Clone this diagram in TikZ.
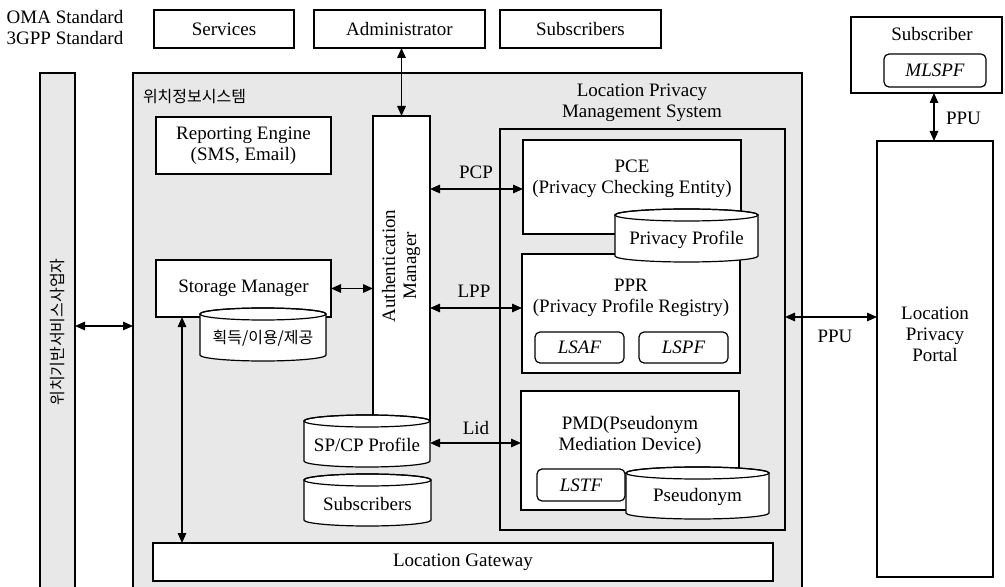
\documentclass[tikz,border=0pt]{standalone}
\usepackage{fontspec}
\setmainfont{Liberation Serif}
\newfontfamily\krfont{Noto Sans CJK KR}
\usetikzlibrary{arrows.meta}
\definecolor{panelgray}{RGB}{232,232,232}
\newcommand{\korean}{\fontsize{16bp}{18bp}\krfont}
% box by image corners: name, style, x1, y1, x2, y2, text
\newcommand{\bx}[7]{%
  \node[#2, minimum width={(#5-#3)*1bp}, minimum height={(#6-#4)*1bp}, anchor=north west, align=center] (#1) at (#3,-#4) {#7};}
% cylinder by image corners: name, x1, y1, x2, y2, text
\newcommand{\dbcyl}[6]{%
  \pgfmathsetmacro{\cylcx}{(#2+#4)/2}%
  \pgfmathsetmacro{\cylrx}{(#4-#2)/2}%
  \pgfmathsetmacro{\cylyt}{-(#3)-6}%
  \pgfmathsetmacro{\cylyb}{-(#5)+6}%
  \pgfmathsetmacro{\cylyc}{-((#3)+(#5))/2-4}%
  \path[cylline] (#2,\cylyt) -- (#2,\cylyb) arc[start angle=180,end angle=360,x radius=\cylrx,y radius=6] -- (#4,\cylyt) arc[start angle=0,end angle=180,x radius=\cylrx,y radius=6] -- cycle;
  \draw[line width=1.2bp] (\cylcx,\cylyt) ellipse[x radius=\cylrx,y radius=6];
  \node (#1) at (\cylcx,\cylyc) {#6};}
\begin{document}
\begin{tikzpicture}[x=1bp,y=1bp,
  every node/.style={font=\fontsize{19bp}{21bp}\selectfont, inner sep=0pt, outer sep=0pt},
  box/.style={draw, line width=1.2bp, fill=white},
  graybox/.style={draw, line width=1.2bp, fill=panelgray},
  rbox/.style={draw, line width=1.2bp, fill=white, rounded corners=5bp, font=\fontsize{19bp}{21bp}\selectfont\itshape},
  dar/.style={line width=1.5bp, {Triangle[length=10bp,width=8.5bp]}-{Triangle[length=10bp,width=8.5bp]}},
  cylline/.style={draw, line width=1.2bp, fill=white}]
\clip (0,0) rectangle (1005,-587);
\fill[white] (0,0) rectangle (1005,-587);

% top row
\node[align=center] (std) at (65,-28) {OMA Standard\\3GPP Standard};
\bx{services}{box}{154}{10}{294}{48}{Services}
\bx{admin}{box}{314}{10}{485}{48}{Administrator}
\bx{subs}{box}{500}{10}{661}{48}{Subscribers}

% left provider column
\bx{lsp}{graybox}{40}{73}{75}{600}{}
\node[rotate=90, font=\korean] (lsptxt) at (58,-332) {위치기반서비스사업자};

% main system
\bx{lbs}{graybox}{133}{73}{802}{600}{}
\node[anchor=west, font=\korean] (lbstitle) at (143,-97) {위치정보시스템};
\bx{report}{box}{156}{117}{331}{174}{Reporting Engine\\(SMS, Email)}
\bx{storage}{box}{156}{260}{331}{317}{Storage Manager}
\dbcyl{acq}{200}{308}{326}{361}{\korean 획득/이용/제공}
\bx{auth}{box}{373}{116}{430}{440}{}
\node[rotate=90, align=center] (authtxt) at (401,-266) {Authentication\\Manager};
\dbcyl{spcp}{304}{415}{430}{467}{SP/CP Profile}
\dbcyl{subdb}{304}{474}{431}{526}{Subscribers}
\bx{gw}{box}{153}{543}{773}{581}{Location Gateway}

% LPMS
\node[align=center] (lpmstitle) at (642,-102.5) {Location Privacy\\Management System};
\bx{lpms}{graybox}{500}{129}{785}{530}{}
\bx{pce}{box}{523}{140}{741}{234}{}
\node[align=center] (pcetxt) at (632,-178.5) {PCE\\(Privacy Checking Entity)};
\bx{ppr}{box}{522}{254}{740}{373}{}
\node[align=center] (pprtxt) at (631,-298) {PPR\\(Privacy Profile Registry)};
\bx{lsaf}{rbox}{535}{332}{624}{363}{LSAF}
\bx{lspf}{rbox}{639}{332}{728}{363}{LSPF}
\dbcyl{pprof}{615}{209}{758}{262}{Privacy Profile}
\bx{pmd}{box}{521}{391}{739}{510}{}
\node[align=center] (pmdtxt) at (630,-435.5) {PMD(Pseudonym\\Mediation Device)};
\bx{lstf}{rbox}{537}{469}{625}{501}{LSTF}
\dbcyl{pseudo}{626}{467}{769}{519}{Pseudonym}

% right side
\bx{subscriber}{box}{851}{17}{1002}{93}{}
\node (subtxt) at (932,-34) {Subscriber};
\bx{mlspf}{rbox}{884}{54}{986}{87}{MLSPF}
\bx{portal}{box}{877}{141}{993}{577}{}
\node[align=center] (portaltxt) at (935,-334) {Location\\Privacy\\Portal};

% connectors
\coordinate (yleft) at (0,-326);
\draw[dar] (yleft -| lsp.east) -- (yleft -| lbs.west);
\draw[dar] (admin.south -| auth.north) -- (auth.north);
\draw[dar] (storage.east) -- (storage.east -| auth.west);
\coordinate (xsg) at (182,0);
\draw[dar] (xsg |- storage.south) -- (xsg |- gw.north);
\coordinate (ypcp) at (0,-189);
\draw[dar] (ypcp -| auth.east) -- (ypcp -| pce.west);
\coordinate (ylpp) at (0,-308);
\draw[dar] (ylpp -| auth.east) -- (ylpp -| ppr.west);
\coordinate (ylid) at (0,-443);
\draw[dar] (ylid -| auth.east) -- (ylid -| pmd.west);
\coordinate (yppu) at (0,-317);
\draw[dar] (yppu -| lpms.east) -- (yppu -| portal.west);
\coordinate (xppu) at (934,0);
\draw[dar] (xppu |- subscriber.south) -- (xppu |- portal.north);

% connector labels
\node (pcplbl) at (476,-172) {PCP};
\node (lpplbl) at (474,-291) {LPP};
\node (lidlbl) at (476,-428) {Lid};
\node (ppulbl) at (835,-336) {PPU};
\node[anchor=west] (ppulbl2) at (946,-118) {PPU};
\end{tikzpicture}
\end{document}
